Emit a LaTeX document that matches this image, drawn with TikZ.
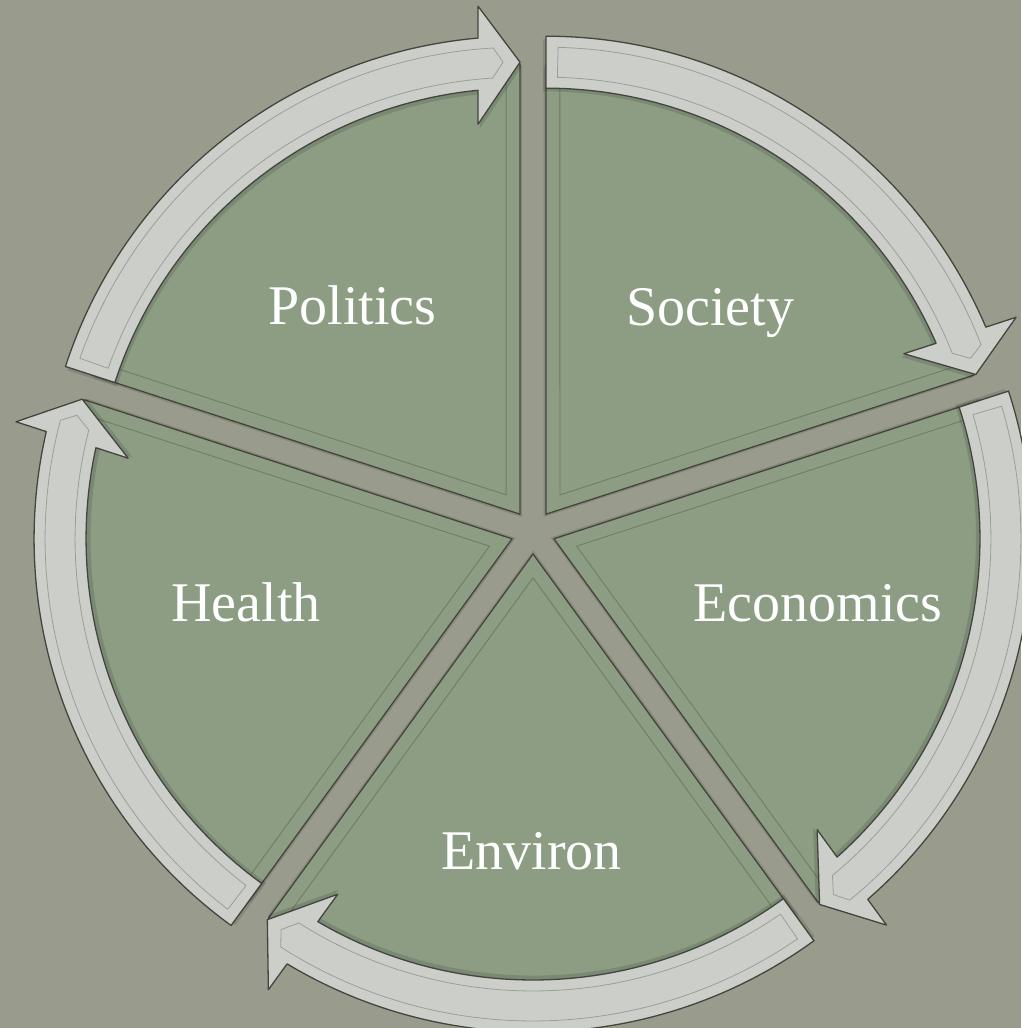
\documentclass[tikz,border=0pt]{standalone}
\usepackage{fontspec}
\setmainfont{Liberation Serif}
\definecolor{bgcol}{HTML}{999B8C}
\definecolor{wedgecol}{HTML}{8C9D83}
\definecolor{arrowcol}{HTML}{CBCEC9}
\definecolor{edgecol}{HTML}{44453E}
\definecolor{bevelcol}{HTML}{6E7E66}
\begin{document}
\begin{tikzpicture}[x=1pt,y=1pt,
  wedgeshape/.style={insert path={(0,0) -- (162:450) arc[start angle=162, end angle=90, radius=450] -- cycle}},
  arrowshape/.style={insert path={(162:426) -- (162:478) arc[start angle=162, end angle=95.04, radius=478]
      -- (-42,508) -- (0,452) -- (-42,390) -- (95.66:426) arc[start angle=95.66, end angle=162, radius=426] -- cycle}},
  arrowinner/.style={insert path={(160.5:437) -- (160.5:467) arc[start angle=160.5, end angle=93.3, radius=467]
      -- (-17,452) -- (93.6:437) arc[start angle=93.6, end angle=160.5, radius=437] -- cycle}},
  wedgebox/.style={fill=wedgecol, draw=edgecol, line width=1.3pt, line join=round},
  wedgebevel/.style={draw=bevelcol, line width=0.9pt},
  arrowband/.style={fill=arrowcol, draw=edgecol, line width=1.3pt, line join=round},
  arrowbevel/.style={draw=edgecol, draw opacity=0.35, line width=0.8pt, line join=round},
  shadowfill/.style={fill=black, fill opacity=0.12},
  segtext/.style={text=white, font=\fontsize{56}{60}\selectfont, anchor=base, inner sep=0pt}]

\fill[bgcol] (0,0) rectangle (1021,1028);
\useasboundingbox (0,0) rectangle (1021,1028);

% wedges
\foreach \k in {0,...,4}{
  \begin{scope}[shift={({533+22*cos(126-72*\k)},{496+22*sin(126-72*\k)})}, rotate={-72*\k}]
    \path[shadowfill, shift={(2,-3)}, wedgeshape];
    \path[wedgebox, wedgeshape];
    \draw[wedgebevel] (-413.4,149.0) -- (-14,19.3) -- (-14,440);
  \end{scope}
}

% arrows
\foreach \k in {0,...,4}{
  \begin{scope}[shift={({533+22*cos(126-72*\k)},{496+22*sin(126-72*\k)})}, rotate={-72*\k}]
    \path[shadowfill, shift={(2,-4)}, arrowshape];
    \path[arrowband, arrowshape];
    \path[arrowbevel, arrowinner];
  \end{scope}
}

\node[segtext] (tpol) at (352.5,703) {Politics};
\node[segtext] (tsoc) at (710,702) {Society};
\node[segtext] (teco) at (818,406) {Economics};
\node[segtext] (tenv) at (531.5,158) {Environ};
\node[segtext] (thea) at (246,406) {Health};
\end{tikzpicture}
\end{document}
